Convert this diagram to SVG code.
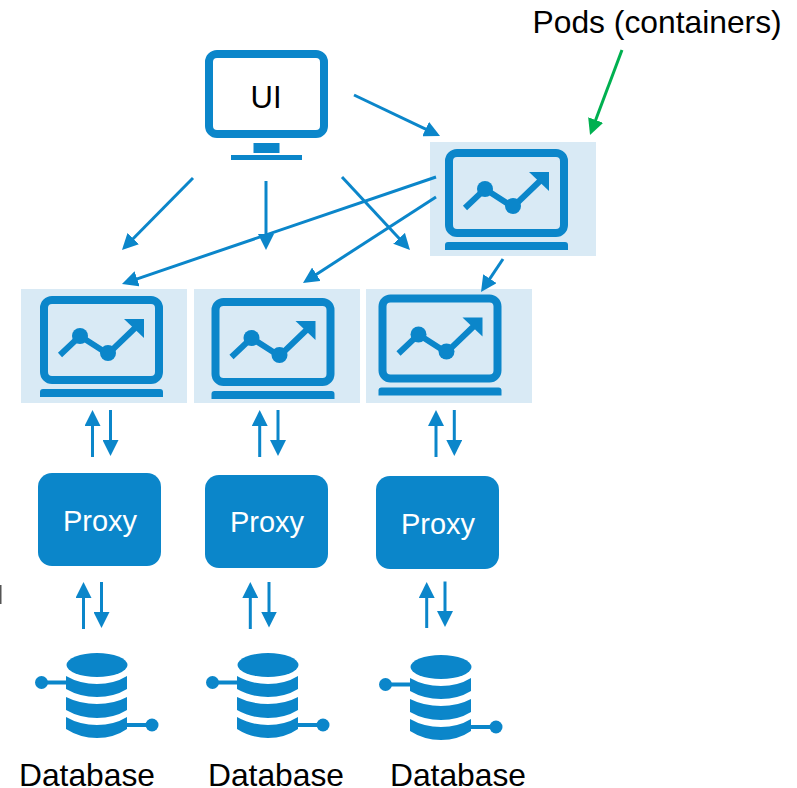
<svg xmlns="http://www.w3.org/2000/svg" width="797" height="788" viewBox="0 0 797 788">
<style>
.t{font-family:"Liberation Sans",Arial,sans-serif;fill:#000}
.w{fill:#fff;font-size:29px;text-anchor:middle;font-family:"Liberation Sans",Arial,sans-serif}
.b{fill:#0b86ca}
.c{fill:none;stroke:#0b86ca;stroke-width:3}
.c line{marker-end:url(#h)}
.p{fill:#d9eaf5}
</style>
<defs>
<marker id="h" viewBox="0 0 16 16" markerUnits="userSpaceOnUse" markerWidth="16" markerHeight="16" refX="3" refY="8" orient="auto"><path d="M0 0L16 8L0 16z" fill="#0b86ca"/></marker>
<marker id="g" viewBox="0 0 16 16" markerUnits="userSpaceOnUse" markerWidth="16" markerHeight="16" refX="3" refY="8" orient="auto"><path d="M0 0L16 8L0 16z" fill="#00b050"/></marker>
<g id="icon">
<rect x="4" y="4" width="115" height="80" rx="8" fill="none" stroke="#0b86ca" stroke-width="8"/>
<path class="b" d="M0 101V96Q0 93 3 93H120Q123 93 123 96V101Z"/>
<path d="M20 59L40 40L68 58L96 31" fill="none" stroke="#0b86ca" stroke-width="6"/>
<circle class="b" cx="40" cy="40" r="8"/><circle class="b" cx="68" cy="57" r="8"/>
<path class="b" d="M84 23H104V42Z"/>
</g>
<g id="db">
<ellipse class="b" cx="97" cy="665" rx="30.500" ry="12"/>
<path class="b" d="M66 676Q80 684 97 684Q114 684 127 676V689Q114 697 97 697Q80 697 66 689Z"/>
<path class="b" d="M66 697Q80 704 97 704Q114 704 127 697V710Q114 718 97 718Q80 718 66 710Z"/>
<path class="b" d="M66 717Q80 725 97 725Q114 725 127 717V729Q114 738 97 738Q80 738 66 729Z"/>
<circle class="b" cx="41.500" cy="682.500" r="6.500"/><rect class="b" x="44" y="680.500" width="22" height="4"/>
<circle class="b" cx="152" cy="725" r="6.500"/><rect class="b" x="127" y="723" width="22" height="4"/>
</g>
</defs>
<rect width="797" height="788" fill="#fff"/>
<g id="pod-top"><rect class="p" x="430" y="142" width="166" height="114"/><use href="#icon" x="445" y="149"/></g>
<g id="pod-1"><rect class="p" x="21" y="289" width="166" height="114"/><use href="#icon" x="40" y="296"/></g>
<g id="pod-2"><rect class="p" x="194" y="289" width="166" height="114"/><use href="#icon" x="211.500" y="298"/></g>
<g id="pod-3"><rect class="p" x="366" y="289" width="166" height="114"/><use href="#icon" x="378.500" y="294.500"/></g>
<g id="ui">
<rect x="209" y="54" width="115" height="80" rx="8" fill="#fff" stroke="#0b86ca" stroke-width="8"/>
<rect class="b" x="253.500" y="143" width="26" height="10"/>
<rect class="b" x="231" y="155" width="71" height="5"/>
<text class="t" x="266" y="108" font-size="31" text-anchor="middle">UI</text>
</g>
<g id="proxy-1"><rect class="b" x="38" y="473" width="123" height="93" rx="14"/><text class="w" x="100" y="531">Proxy</text></g>
<g id="proxy-2"><rect class="b" x="205" y="475" width="123" height="93" rx="14"/><text class="w" x="267" y="532">Proxy</text></g>
<g id="proxy-3"><rect class="b" x="376" y="476" width="123" height="93" rx="14"/><text class="w" x="438" y="534">Proxy</text></g>
<g id="db-1"><use href="#db"/><text class="t" x="87" y="786" font-size="31.800" text-anchor="middle">Database</text></g>
<g id="db-2"><use href="#db" x="171"/><text class="t" x="276" y="786" font-size="31.800" text-anchor="middle">Database</text></g>
<g id="db-3"><use href="#db" x="344" y="2"/><text class="t" x="458" y="786" font-size="31.800" text-anchor="middle">Database</text></g>
<text id="label" class="t" x="532.500" y="33" font-size="31.800">Pods (containers)</text>
<rect x="0" y="585" width="1.500" height="19" fill="#555"/>
<g id="connectors" class="c">
<line x1="354" y1="95" x2="428.300" y2="130.400"/>
<line x1="193" y1="178" x2="131.100" y2="240.700"/>
<line x1="266" y1="181" x2="266" y2="237"/>
<line x1="342" y1="177" x2="401.100" y2="240.500"/>
<line x1="436" y1="177" x2="134.300" y2="279.800"/>
<line x1="436" y1="197" x2="313.900" y2="275.900"/>
<line x1="503" y1="259" x2="488.200" y2="281.200"/>
<line x1="622" y1="50" x2="594.600" y2="122.800" style="stroke:#00b050;marker-end:url(#g)"/>
<line x1="92.500" y1="457" x2="92.500" y2="423"/>
<line x1="110.500" y1="410" x2="110.500" y2="443"/>
<line x1="259.700" y1="457" x2="259.700" y2="423"/>
<line x1="278" y1="410" x2="278" y2="443"/>
<line x1="436" y1="457" x2="436" y2="423"/>
<line x1="454.300" y1="410" x2="454.300" y2="443"/>
<line x1="83.500" y1="629" x2="83.500" y2="595"/>
<line x1="101.500" y1="582" x2="101.500" y2="615"/>
<line x1="250.300" y1="629" x2="250.300" y2="595"/>
<line x1="269" y1="582" x2="269" y2="614.500"/>
<line x1="426.700" y1="628" x2="426.700" y2="595"/>
<line x1="445" y1="581.500" x2="445" y2="614"/>
</g>
</svg>
